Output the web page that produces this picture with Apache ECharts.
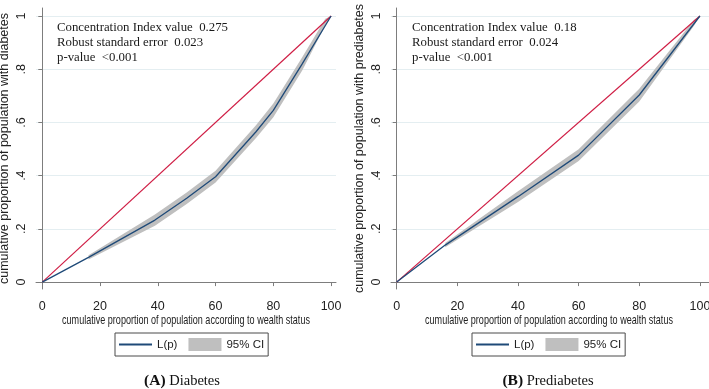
<!DOCTYPE html>
<html>
<head>
<meta charset="utf-8">
<script src="https://cdn.jsdelivr.net/npm/echarts@6/dist/echarts.min.js"></script>
<style>
  html, body { margin: 0; padding: 0; background: #fff; }
  #chart { width: 709px; height: 389px; }
</style>
</head>
<body>
<div id="chart"></div>
<script>
// axis ticks
const xTicks = [0, 20, 40, 60, 80, 100]
const yTicks = [0, 0.2, 0.4, 0.6, 0.8, 1]
const yTickLabels = ['0', '.2', '.4', '.6', '.8', '1']

// line of equality
const eqX = [0, 100]
const eqY = [0, 1]

// (A) diabetes: concentration curve and 95% CI
const diabX = [0, 16, 39, 50, 60, 74, 80, 90, 100]
const diabL = [0, 0.093, 0.233, 0.315, 0.396, 0.565, 0.645, 0.82, 1]
const diabCiX = [16, 39, 50, 60, 74, 80, 90, 98, 100]
const diabCiLo = [0.085, 0.212, 0.293, 0.374, 0.541, 0.619, 0.795, 0.965, 1]
const diabCiHi = [0.101, 0.254, 0.337, 0.418, 0.589, 0.671, 0.845, 0.99, 1]

// (B) prediabetes
const prediabX = [0, 16, 40, 60, 80, 100]
const prediabL = [0, 0.139, 0.321, 0.477, 0.703, 1]
const prediabCiX = [16, 40, 60, 80, 98, 100]
const prediabCiLo = [0.131, 0.301, 0.455, 0.679, 0.962, 1]
const prediabCiHi = [0.147, 0.341, 0.499, 0.727, 0.985, 1]

const annA = ['Concentration Index value  0.275', 'Robust standard error  0.023', 'p-value  <0.001']
const annB = ['Concentration Index value  0.18', 'Robust standard error  0.024', 'p-value  <0.001']

const xTitle = 'cumulative proportion of population according to wealth status'
const yTitleA = 'cumulative proportion of population with diabetes'
const yTitleB = 'cumulative proportion of population with prediabetes'

const sans = '"Liberation Sans", Arial, sans-serif'
const serif = '"Liberation Serif", "Times New Roman", serif'
const RED = '#cf1d44'
const BLUE = '#1f4a78'
const GREY = '#bfbfbf'
const GRIDC = '#e4eef1'
const AXISC = '#7d7d7d'

const zip = (xs, ys) => xs.map((x, i) => [x, ys[i]])

const makeX = (idx, min, max) => ({
  type: 'value',
  gridIndex: idx,
  min: min,
  max: max,
  axisLine: { show: true, lineStyle: { color: AXISC, width: 1 } },
  axisTick: { show: true, length: 4, customValues: xTicks, lineStyle: { color: AXISC } },
  axisLabel: { customValues: xTicks, margin: 11, fontFamily: sans, fontSize: 12.5, color: '#222' },
  splitLine: { show: false }
})

const makeY = (idx, name) => ({
  type: 'value',
  gridIndex: idx,
  min: -0.026,
  max: 1.03,
  name: name,
  nameLocation: 'middle',
  nameGap: 25,
  nameTextStyle: { fontFamily: sans, fontSize: 12.5, color: '#222' },
  axisLine: { show: true, lineStyle: { color: AXISC, width: 1 } },
  axisTick: { show: true, length: 4, customValues: yTicks, lineStyle: { color: AXISC } },
  axisLabel: {
    customValues: yTicks,
    rotate: 90,
    margin: 8,
    fontFamily: sans,
    fontSize: 12.5,
    color: '#222',
    formatter: v => yTickLabels[yTicks.findIndex(t => Math.abs(t - v) < 1e-6)] ?? ''
  },
  splitLine: { show: true, lineStyle: { color: GRIDC, width: 1 } }
})

// 置信带：用多边形连接上下界
const bandSeries = (idx, xs, lo, hi) => ({
  name: '95% CI',
  type: 'custom',
  xAxisIndex: idx,
  yAxisIndex: idx,
  itemStyle: { color: GREY },
  z: 2,
  data: [[xs[0], lo[0]]],
  renderItem: (params, api) => {
    const pts = xs.map((x, i) => api.coord([x, hi[i]]))
      .concat(xs.map((x, i) => api.coord([x, lo[i]])).reverse())
    return { type: 'polygon', shape: { points: pts }, style: { fill: GREY } }
  }
})

const panelSeries = (idx, xs, ys, cx, lo, hi) => [
  bandSeries(idx, cx, lo, hi),
  {
    name: 'equality', type: 'line', xAxisIndex: idx, yAxisIndex: idx,
    data: zip(eqX, eqY), symbol: 'none', z: 3,
    lineStyle: { color: RED, width: 1.2 }, itemStyle: { color: RED }
  },
  {
    name: 'L(p)', type: 'line', xAxisIndex: idx, yAxisIndex: idx,
    data: zip(xs, ys), symbol: 'none', z: 4,
    lineStyle: { color: BLUE, width: 1.3 }, itemStyle: { color: BLUE }
  }
]

const makeLegend = (left) => ({
  left: left,
  top: 333,
  orient: 'horizontal',
  data: [
    { name: 'L(p)', itemStyle: { color: 'rgba(0,0,0,0)', borderWidth: 0, opacity: 0 } },
    { name: '95% CI', icon: 'rect' }
  ],
  itemWidth: 33,
  itemHeight: 13,
  itemGap: 11,
  padding: [5, 4, 5, 3],
  borderColor: '#4a4a4a',
  borderWidth: 1,
  selectedMode: false,
  textStyle: { fontFamily: sans, fontSize: 11.5, color: '#222' }
})

// Stata 的横向文字较窄，这里横向压缩
const xName = (x) => ({
  type: 'text', x: x, y: 320, scaleX: 0.67,
  style: { text: xTitle, align: 'center', verticalAlign: 'middle', font: '13.5px ' + sans, fill: '#222' }
})

const annText = (x, lines) => ({
  type: 'text', x: x, y: 20,
  style: { text: lines.join('\n'), font: '12.8px ' + serif, lineHeight: 15, fill: '#1a1a1a' }
})

const caption = (x, tag, word) => ({
  type: 'text', x: x, y: 381,
  style: {
    text: '{b|' + tag + '}{n| ' + word + '}',
    align: 'center', verticalAlign: 'middle',
    rich: {
      b: { fontFamily: serif, fontWeight: 'bold', fontSize: 15.5, fill: '#111' },
      n: { fontFamily: serif, fontSize: 14.5, fill: '#111' }
    }
  }
})

const chart = echarts.init(document.getElementById('chart'), null, { renderer: 'canvas' })
chart.setOption({
  animation: false,
  backgroundColor: '#fff',
  grid: [
    { left: 36, top: 8, width: 300, height: 281, outerBoundsMode: 'none' },
    { left: 391, top: 8, width: 318, height: 281, outerBoundsMode: 'none' }
  ],
  xAxis: [makeX(0, -2.18, 101.7), makeX(1, -1.88, 103.0)],
  yAxis: [makeY(0, yTitleA), makeY(1, yTitleB)],
  legend: [makeLegend(115), makeLegend(472)],
  series: [
    ...panelSeries(0, diabX, diabL, diabCiX, diabCiLo, diabCiHi),
    ...panelSeries(1, prediabX, prediabL, prediabCiX, prediabCiLo, prediabCiHi)
  ],
  graphic: [
    xName(186),
    xName(549),
    annText(57, annA),
    annText(412, annB),
    caption(182, '(A)', 'Diabetes'),
    caption(548, '(B)', 'Prediabetes')
  ]
})
</script>
</body>
</html>
